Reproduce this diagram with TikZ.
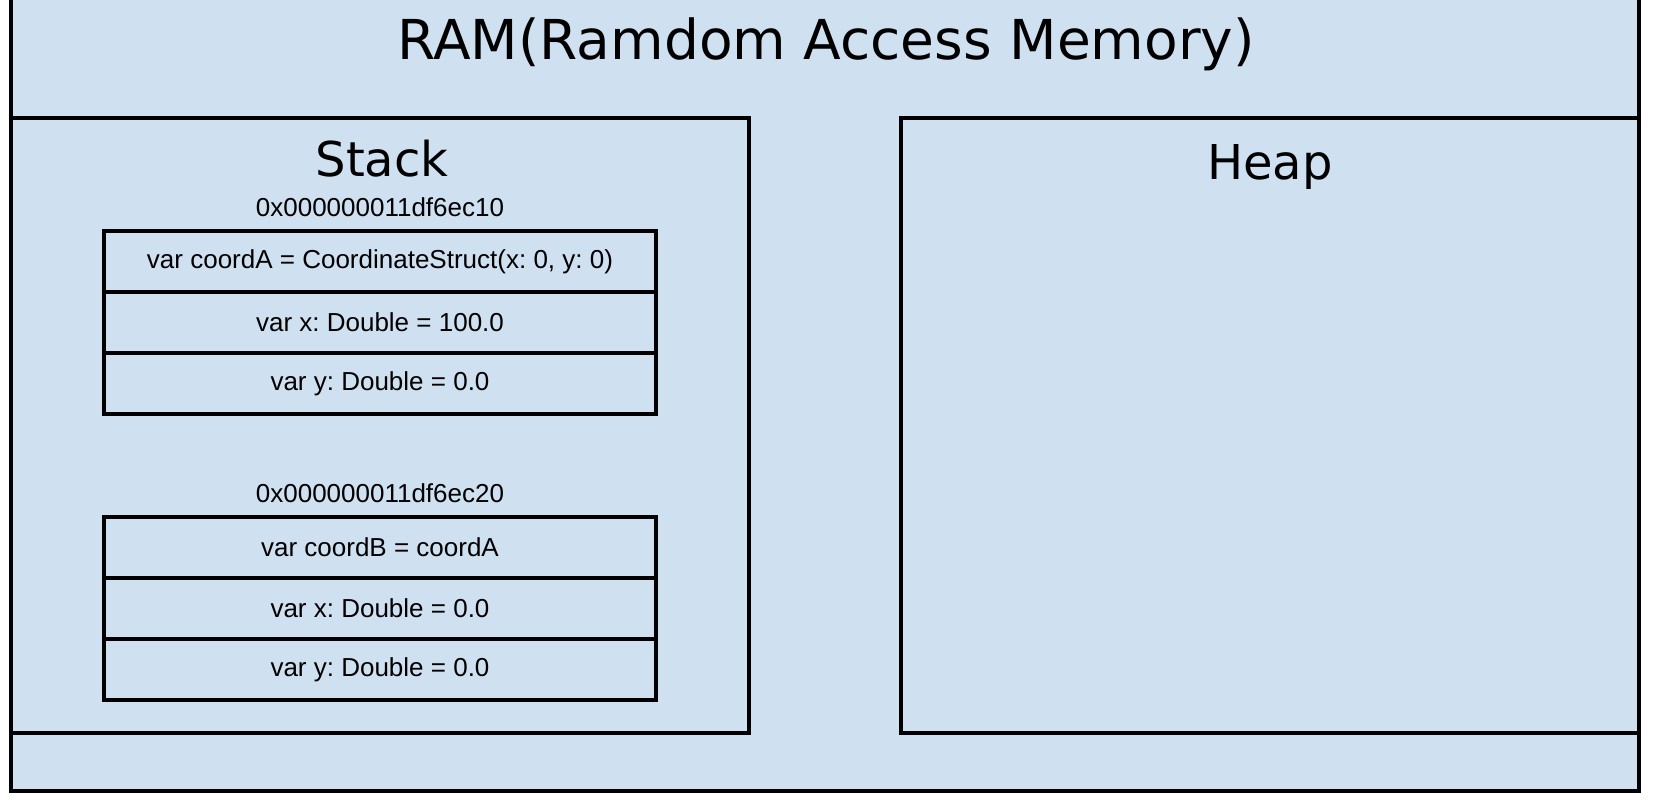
\documentclass[tikz,border=0pt]{standalone}
\usepackage{fontspec}
\setmainfont{Liberation Sans}
\newfontfamily\handfont{DejaVu Sans}
\usetikzlibrary{positioning}
\frenchspacing
\definecolor{memblue}{RGB}{207,224,241}
\tikzstyle{region} = [rectangle, draw=black, fill=memblue, line width=3.2pt, inner sep=0pt, outer sep=0pt]
\tikzstyle{cell} = [rectangle, draw=black, fill=memblue, line width=3.2pt, minimum width=552pt, minimum height=61pt, inner sep=0pt, outer sep=0pt, text centered, font=\fontsize{26}{30}\selectfont]
\tikzstyle{address} = [anchor=base, inner sep=0pt, font=\fontsize{26}{30}\selectfont]
\tikzstyle{heading} = [anchor=base, inner sep=0pt, font=\handfont\fontsize{48}{56}\selectfont]

\begin{document}
\begin{tikzpicture}[x=1pt, y=-1pt]
\useasboundingbox (0,0) rectangle (1676,802);
\fill[white] (0,0) rectangle (1676,802);

% RAM frame
\node (ram) [region, minimum width=1628pt, minimum height=794pt] at (825,394) {};
\node (title) [heading, font=\handfont\fontsize{55}{64}\selectfont] at (826,60) {RAM(Ramdom Access Memory)};

% Stack and Heap
\node (stack) [region, minimum width=738pt, minimum height=615pt] at (380,425.5) {};
\node (heap) [region, minimum width=738pt, minimum height=615pt] at (1270,425.5) {};
\node (stacktitle) [heading] at (382,177) {Stack};
\node (heaptitle) [heading] at (1270,180) {Heap};

% coordA
\node (addrA) [address] at (380,217) {0x000000011df6ec10};
\node (coordA) [cell] at (380,261.5) {var coordA = CoordinateStruct(x: 0, y: 0)};
\node (xA) [cell, below=0pt of coordA] {var x: Double = 100.0};
\node (yA) [cell, below=0pt of xA] {var y: Double = 0.0};

% coordB
\node (addrB) [address] at (380,502) {0x000000011df6ec20};
\node (coordB) [cell] at (380,547.5) {var coordB = coordA};
\node (xB) [cell, below=0pt of coordB] {var x: Double = 0.0};
\node (yB) [cell, below=0pt of xB] {var y: Double = 0.0};

\end{tikzpicture}
\end{document}
